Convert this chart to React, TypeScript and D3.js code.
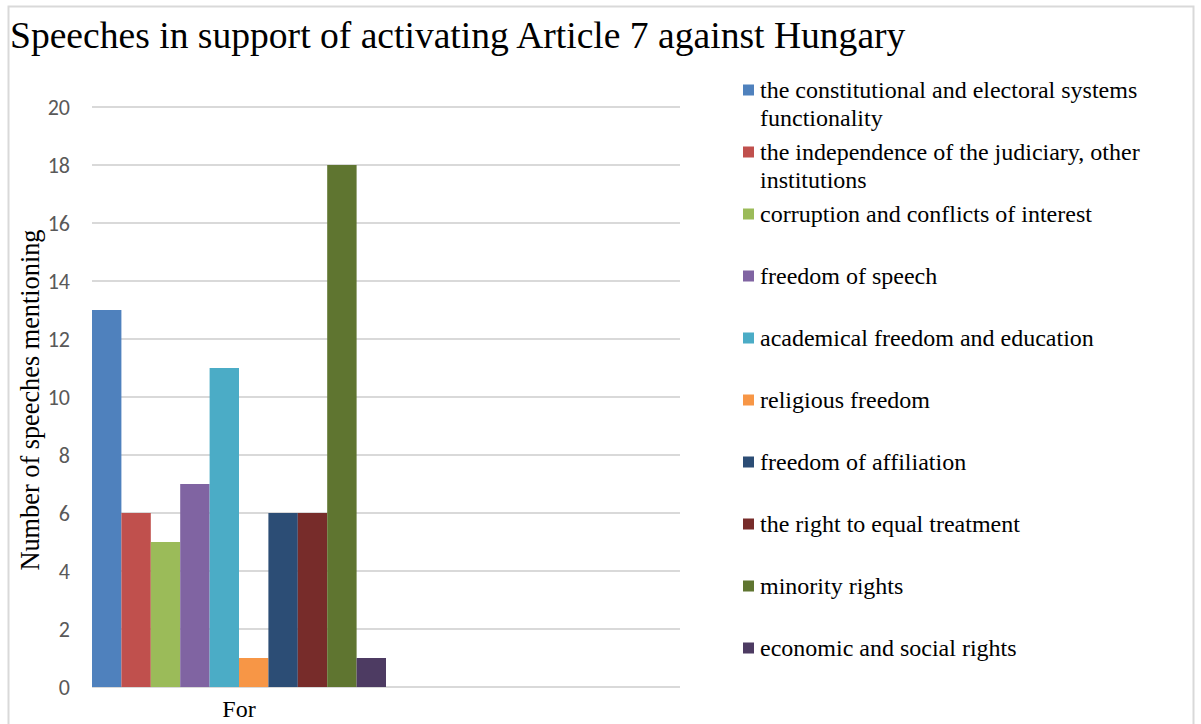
import React, { useEffect, useRef } from 'react'
import * as d3 from 'd3'

const categories = ['For', '']
const seriesNames = [
  'the constitutional and electoral systems functionality',
  'the independence of the judiciary, other institutions',
  'corruption and conflicts of interest',
  'freedom of speech',
  'academical freedom and education',
  'religious freedom',
  'freedom of affiliation',
  'the right to equal treatment',
  'minority rights',
  'economic and social rights',
]
const legendLines = [
  ['the constitutional and electoral systems', 'functionality'],
  ['the independence of the judiciary, other', 'institutions'],
  ['corruption and conflicts of interest'],
  ['freedom of speech'],
  ['academical freedom and education'],
  ['religious freedom'],
  ['freedom of affiliation'],
  ['the right to equal treatment'],
  ['minority rights'],
  ['economic and social rights'],
]
const forValues = [13, 6, 5, 7, 11, 1, 6, 6, 18, 1]
const colors = [
  '#4F81BD', '#C0504D', '#9BBB59', '#8064A2', '#4BACC6',
  '#F79646', '#2C4D75', '#772C2A', '#5F7530', '#4D3B62',
]
const yTicks = [0, 2, 4, 6, 8, 10, 12, 14, 16, 18, 20]

const W = 1201
const H = 724
const serif = '"Liberation Serif", "Times New Roman", serif'
const sans = 'Carlito, Calibri, "Liberation Sans", sans-serif'

const App: React.FC = () => {
  const ref = useRef<SVGSVGElement>(null)

  useEffect(() => {
    if (!ref.current) return
    const svg = d3.select(ref.current)
    svg.selectAll('*').remove()

    // chart frame
    svg.append('rect')
      .attr('x', 8.5).attr('y', 6.5)
      .attr('width', 1185).attr('height', 730)
      .attr('fill', '#fff').attr('stroke', '#d9d9d9').attr('stroke-width', 2)

    svg.append('text')
      .attr('x', 10).attr('y', 48)
      .style('font-family', serif).attr('font-size', 37.6)
      .attr('fill', '#000')
      .text('Speeches in support of activating Article 7 against Hungary')

    const y = d3.scaleLinear().domain([0, 20]).range([687, 107])
    const x = d3.scaleBand().domain(categories).range([92, 680]).padding(0)
    const xi = d3.scaleBand<number>().domain(d3.range(seriesNames.length)).range([0, x.bandwidth()]).padding(0)

    svg.append('g').selectAll('line')
      .data(yTicks)
      .join('line')
      .attr('x1', 92).attr('x2', 680)
      .attr('y1', d => y(d)).attr('y2', d => y(d))
      .attr('stroke', '#d9d9d9').attr('stroke-width', 2)

    svg.append('g').selectAll('text')
      .data(yTicks)
      .join('text')
      .attr('x', 70).attr('y', d => y(d) + 8)
      .attr('text-anchor', 'end')
      .style('font-family', sans).attr('font-size', 22)
      .attr('fill', '#595959')
      .text(d => d)

    svg.append('g').selectAll('rect')
      .data(forValues)
      .join('rect')
      .attr('x', (_, i) => (x('For') as number) + (xi(i) as number))
      .attr('width', xi.bandwidth())
      .attr('y', d => y(d))
      .attr('height', d => y(0) - y(d))
      .attr('fill', (_, i) => colors[i])

    svg.append('g').selectAll('text')
      .data(categories)
      .join('text')
      .attr('x', d => (x(d) as number) + x.bandwidth() / 2)
      .attr('y', 717)
      .attr('text-anchor', 'middle')
      .style('font-family', serif).attr('font-size', 24)
      .attr('fill', '#000')
      .text(d => d)

    svg.append('text')
      .attr('transform', `translate(39, 400) rotate(-90)`)
      .attr('text-anchor', 'middle')
      .style('font-family', serif).attr('font-size', 26.3)
      .attr('fill', '#000')
      .text('Number of speeches mentioning')

    const legend = svg.append('g')
    seriesNames.forEach((name, i) => {
      const cy = 90 + i * 62
      const g = legend.append('g').attr('data-name', name)
      g.append('rect')
        .attr('x', 743).attr('y', cy - 5.5)
        .attr('width', 11).attr('height', 11)
        .attr('fill', colors[i])
      legendLines[i].forEach((line, j) => {
        g.append('text')
          .attr('x', 760).attr('y', cy + 8 + j * 28)
          .style('font-family', serif).attr('font-size', 24)
          .attr('fill', '#000')
          .text(line)
      })
    })
  }, [])

  return (
    <div style={{ position: 'absolute', left: 0, top: 0, width: W, height: H, background: '#fff' }}>
      <svg ref={ref} width={W} height={H} />
    </div>
  )
}

export default App
